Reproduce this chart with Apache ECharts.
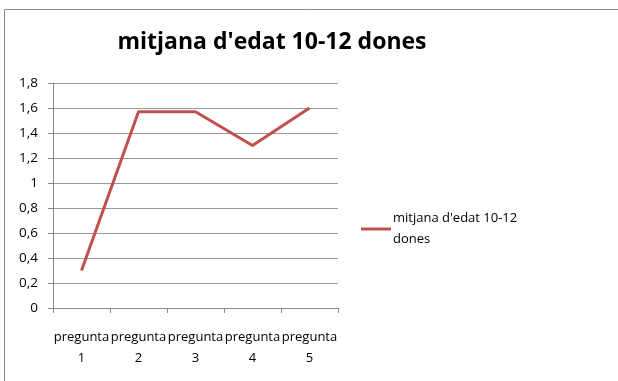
<!DOCTYPE html>
<html><head><meta charset="utf-8">
<script src="https://cdn.jsdelivr.net/npm/echarts@6/dist/echarts.min.js"></script>
<style>html,body{margin:0;padding:0;background:#fff}#c{width:618px;height:381px}</style>
</head><body><div id="c"></div>
<script>
const categories = ['pregunta\n1','pregunta\n2','pregunta\n3','pregunta\n4','pregunta\n5'];
const values = [0.3, 1.57, 1.57, 1.3, 1.6];
const seriesName = "mitjana d'edat 10-12 dones";
const titleText = "mitjana d'edat 10-12 dones";
const font = 'Open Sans';
const chart = echarts.init(document.getElementById('c'));
chart.setOption({
  animation: false,
  graphic: [{type:'rect', shape:{x:4.5,y:9.5,width:700,height:500}, style:{fill:'none', stroke:'#888', lineWidth:1}}],
  title: {text: titleText, left: 267, top: 26, textAlign:'center',
    textStyle:{fontFamily: font, fontWeight:'bold', fontSize:23, color:'#000'}},
  grid: {left: 53, top: 83, width: 285, height: 225},
  legend: {
    orient:'vertical', left: 356, top: 203, itemWidth: 30, itemHeight: 3, itemGap: 0,
    icon: 'rect',
    formatter: () => "mitjana d'edat 10-12\ndones",
    textStyle:{fontFamily: font, fontSize: 13, color:'#000', lineHeight: 21, padding:[0,0,0,-3]},
    data:[seriesName]
  },
  xAxis: {
    type:'category', data: categories, boundaryGap: true,
    axisLine:{lineStyle:{color:'#888'}},
    axisTick:{show:true, length:5, lineStyle:{color:'#888'}},
    axisLabel:{fontFamily: font, fontSize: 13, color:'#000', lineHeight: 21, margin: 19, interval:0}
  },
  yAxis: {
    type:'value', min:0, max:1.8, interval:0.2,
    axisLine:{show:true, lineStyle:{color:'#888'}},
    axisTick:{show:true, length:5, lineStyle:{color:'#888'}},
    splitLine:{lineStyle:{color:'#999'}},
    axisLabel:{fontFamily: font, fontSize: 13.5, color:'#000', margin: 15,
      formatter: v => String(Math.round(v*10)/10).replace('.', ',')}
  },
  series: [{
    name: seriesName, type:'line', data: values, symbol:'none',
    lineStyle:{color:'#C0504D', width:3}, itemStyle:{color:'#C0504D'}
  }]
});
</script></body></html>
